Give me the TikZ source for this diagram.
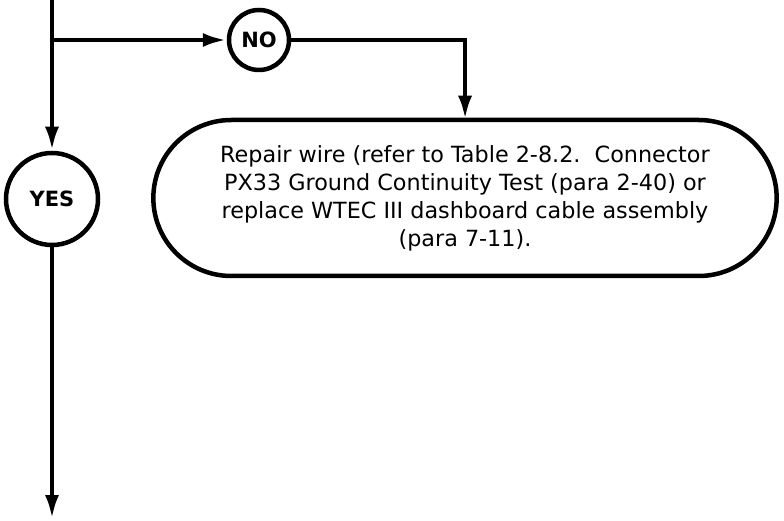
\documentclass[tikz,border=0pt]{standalone}
\usepackage{fontspec}
\setmainfont{DejaVu Sans}
\usetikzlibrary{positioning,arrows.meta,shapes.misc}

\begin{document}
\begin{tikzpicture}[>={Latex[length=24pt,width=14pt]},line width=4.5pt,x=1pt,y=-1pt]
        \useasboundingbox (0,0) rectangle (784,521);
        \coordinate (top) at (52,-4);
        \coordinate (split) at (52,40);
        \coordinate (out) at (52,519);
        \node[draw,circle,minimum size=60pt,inner sep=0pt,font=\fontsize{21}{24}\selectfont\bfseries] (no) at (259,40) {NO};
        \node[draw,circle,minimum size=92pt,inner sep=0pt,font=\fontsize{21}{24}\selectfont\bfseries] (yes) at (52,199) {YES};
        \node[draw,rounded rectangle,minimum width=630pt,minimum height=156pt,align=center,font=\fontsize{22.3}{28}\selectfont] (repair) at (465,198)
            {Repair wire (refer to Table 2-8.2.~~Connector\\PX33 Ground Continuity Test (para 2-40) or\\replace WTEC III dashboard cable assembly\\(para 7-11).};
        \draw (top) -- (split);
        \draw[->] (split) -- (no);
        \draw[->,shorten >=-2pt] (no) -| (repair);
        \draw[->] (split) -- (yes);
        \draw[->] (yes) -- (out);
    \end{tikzpicture}
\end{document}
